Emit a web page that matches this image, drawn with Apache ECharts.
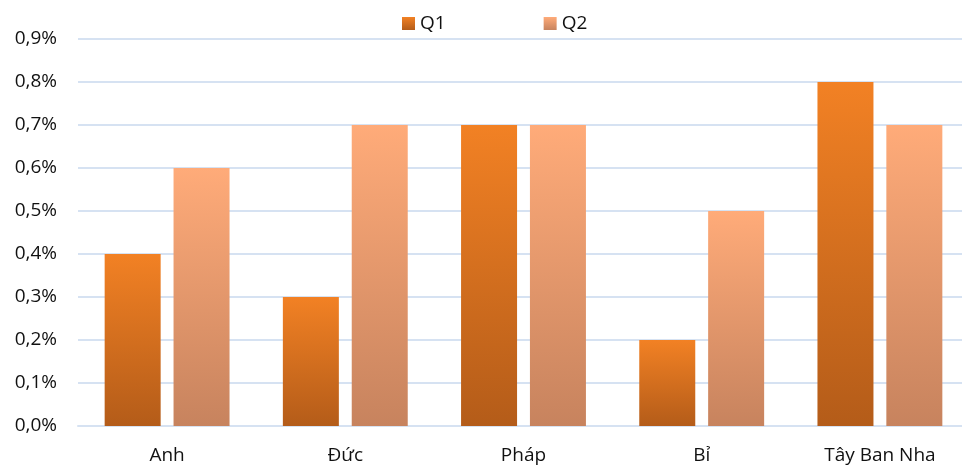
<!DOCTYPE html>
<html>
<head>
<meta charset="utf-8">
<script src="https://cdn.jsdelivr.net/npm/echarts@6/dist/echarts.min.js"></script>
<style>
html,body{margin:0;padding:0;background:#fff;overflow:hidden;}
#chart{width:969px;height:466px;}
</style>
</head>
<body>
<div id="chart"></div>
<script>
var categories = ['Anh', 'Đức', 'Pháp', 'Bỉ', 'Tây Ban Nha'];
var seriesNames = ['Q1', 'Q2'];
var q1Values = [0.4, 0.3, 0.7, 0.2, 0.8];
var q2Values = [0.6, 0.7, 0.7, 0.5, 0.7];
var yMin = 0, yMax = 0.9, yInterval = 0.1;

function grad(top, bottom) {
  return new echarts.graphic.LinearGradient(0, 0, 0, 1, [
    {offset: 0, color: top}, {offset: 1, color: bottom}
  ]);
}

var chart = echarts.init(document.getElementById('chart'));
var font = '"Open Sans", "Noto Sans", sans-serif';
chart.setOption({
  animation: false,
  textStyle: {fontFamily: font},
  legend: {
    top: 14,
    left: 402,
    padding: 0,
    itemWidth: 13,
    itemHeight: 13,
    itemGap: 98,
    itemStyle: {borderWidth: 0},
    icon: 'rect',
    textStyle: {fontSize: 19, color: '#111', fontFamily: font},
    data: seriesNames
  },
  grid: {left: 78, top: 39, right: 0, bottom: 40, containLabel: false},
  xAxis: {
    type: 'category',
    data: categories,
    axisLine: {lineStyle: {color: '#D6E2F2', width: 2}},
    axisTick: {show: false},
    axisLabel: {fontSize: 19, color: '#111', margin: 20, fontFamily: font}
  },
  yAxis: {
    type: 'value',
    min: yMin, max: yMax, interval: yInterval,
    axisLine: {show: false},
    axisTick: {show: false},
    splitLine: {lineStyle: {color: '#D6E2F2', width: 2}},
    axisLabel: {
      fontSize: 19, color: '#111', margin: 21, fontFamily: font,
      formatter: function (v) { return v.toFixed(1).replace('.', ',') + '%'; }
    }
  },
  series: [
    {
      name: seriesNames[0], type: 'bar', data: q1Values,
      barWidth: 56, barGap: '23%',
      itemStyle: {color: grad('#F28124', '#B45C19')}
    },
    {
      name: seriesNames[1], type: 'bar', data: q2Values,
      barWidth: 56, barGap: '23%',
      itemStyle: {color: grad('#FFAB79', '#C7835E')}
    }
  ]
});
</script>
</body>
</html>
